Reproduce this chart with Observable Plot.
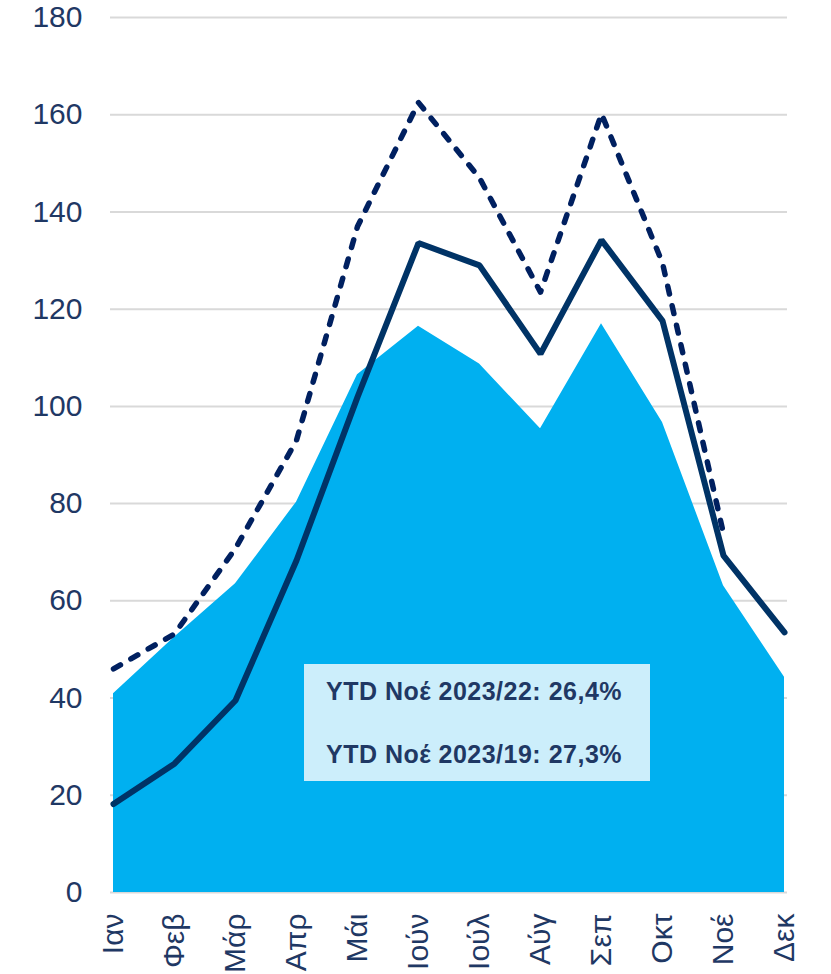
<!DOCTYPE html>
<html>
<head>
<meta charset="utf-8">
<script src="https://cdn.jsdelivr.net/npm/d3@7"></script>
<script src="https://cdn.jsdelivr.net/npm/@observablehq/plot@0.6"></script>
<style>
  html, body { margin: 0; padding: 0; background: #fff; }
  #wrap { position: relative; width: 831px; height: 974px; }
  #note {
    position: absolute; left: 304px; top: 664px; width: 346px; height: 117px;
    background: #CCEEFB; color: #1F3864;
    font-family: "Liberation Sans", Arial, sans-serif; font-weight: bold; font-size: 25px;
    letter-spacing: 0.5px;
  }
  #note div { position: absolute; left: 22px; white-space: nowrap; line-height: normal; }
</style>
</head>
<body>
<div id="wrap"></div>
<script>
const months = ["Ιαν","Φεβ","Μάρ","Απρ","Μάι","Ιούν","Ιούλ","Αύγ","Σεπ","Οκτ","Νοέ","Δεκ"];
const areaSeries = [40.9, 52.5, 63.5, 80.3, 106.5, 116.5, 108.7, 95.4, 117.0, 96.7, 63.1, 44.3];
const solidSeries = [18.2, 26.5, 39.5, 68.3, 101.9, 133.6, 129.0, 110.8, 134.2, 117.6, 69.3, 53.5];
const dashedSeries = [46.0, 53.2, 70.8, 93.0, 137.0, 162.5, 147.0, 123.5, 160.2, 129.5, 73.8, null];
const yTicks = [0, 20, 40, 60, 80, 100, 120, 140, 160, 180];
const noteLines = ["YTD Νοέ 2023/22: 26,4%", "YTD Νοέ 2023/19: 27,3%"];

const rows = months.map((m, i) => ({month: m, area: areaSeries[i], solid: solidSeries[i], dashed: dashedSeries[i]}));
const dashedRows = rows.filter(d => d.dashed != null);

const chart = Plot.plot({
  width: 831,
  height: 974,
  marginLeft: 110,
  marginRight: 44,
  marginTop: 17,
  marginBottom: 82,
  style: {fontFamily: "'Liberation Sans', Arial, sans-serif", color: "#1F3864", background: "#fff"},
  x: {type: "point", domain: months, padding: 0, label: null},
  y: {domain: [0, 180], ticks: yTicks, label: null},
  marks: [
    Plot.gridY(yTicks, {stroke: "#D9D9D9", strokeOpacity: 1, strokeWidth: 2}),
    Plot.areaY(rows, {x: "month", y: "area", fill: "#00B0F0", curve: "linear"}),
    Plot.lineY(dashedRows, {x: "month", y: "dashed", stroke: "#002060", strokeWidth: 5.5, strokeDasharray: "8,12", strokeLinecap: "round"}),
    Plot.lineY(rows, {x: "month", y: "solid", stroke: "#003366", strokeWidth: 6, strokeLinejoin: "miter"}),
    Plot.axisY(yTicks, {tickSize: 0, tickPadding: 28, fontSize: 30, fill: "#1F3864"}),
    Plot.axisX(months, {tickSize: 0, tickPadding: 21, tickRotate: -90, fontSize: 30, fill: "#1F3864"})
  ]
});
const wrap = document.getElementById("wrap");
wrap.appendChild(chart);
const note = document.createElement("div");
note.id = "note";
noteLines.forEach((t, i) => {
  const d = document.createElement("div");
  d.textContent = t;
  d.style.top = (i === 0 ? 13 : 76) + "px";
  note.appendChild(d);
});
wrap.appendChild(note);
</script>
</body>
</html>
